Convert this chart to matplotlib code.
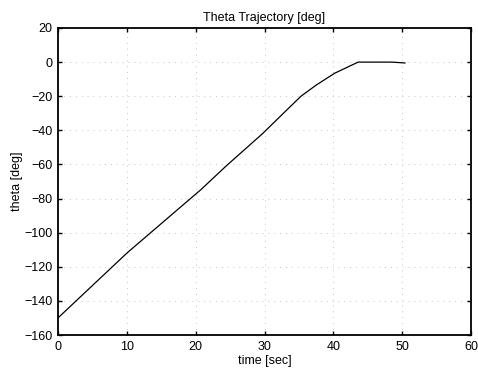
import matplotlib
matplotlib.use("Agg")
import matplotlib.pyplot as plt

# theta trajectory samples (time in sec, angle in deg)
time_sec = [0, 10, 17.8, 20.7, 24.4, 29.7, 33.0, 35.3, 37.5, 40.2, 43.6, 48.5, 50.4]
theta_deg = [-150, -112, -85, -75, -61, -42, -29, -20, -13.5, -6.5, 0, 0, -0.5]

x_ticks = [0, 10, 20, 30, 40, 50, 60]
y_ticks = [-160, -140, -120, -100, -80, -60, -40, -20, 0, 20]

plt.rcParams['font.family'] = ['Liberation Sans', 'DejaVu Sans']
plt.rcParams['font.size'] = 9

fig = plt.figure(figsize=(4.78, 3.70), dpi=100)
ax = fig.add_axes([58 / 478, 1 - 335 / 370, 413 / 478, 307 / 370])

ax.plot(time_sec, theta_deg, color='black', linewidth=0.9)

ax.set_xlim(0, 60)
ax.set_ylim(-160, 20)
ax.set_xticks(x_ticks)
ax.set_yticks(y_ticks)
ax.grid(True, color='0.7', linestyle=(0, (1, 6)), linewidth=0.6)
ax.tick_params(direction='in', top=True, right=True, length=3, width=1, pad=4)
for s in ax.spines.values():
    s.set_linewidth(1.3)

ax.set_title('Theta Trajectory [deg]', fontsize=9, pad=5)
ax.set_xlabel('time [sec]', fontsize=9, labelpad=2)
ax.set_ylabel('theta [deg]', fontsize=9, labelpad=1)

fig.savefig('out.png', dpi=100)
